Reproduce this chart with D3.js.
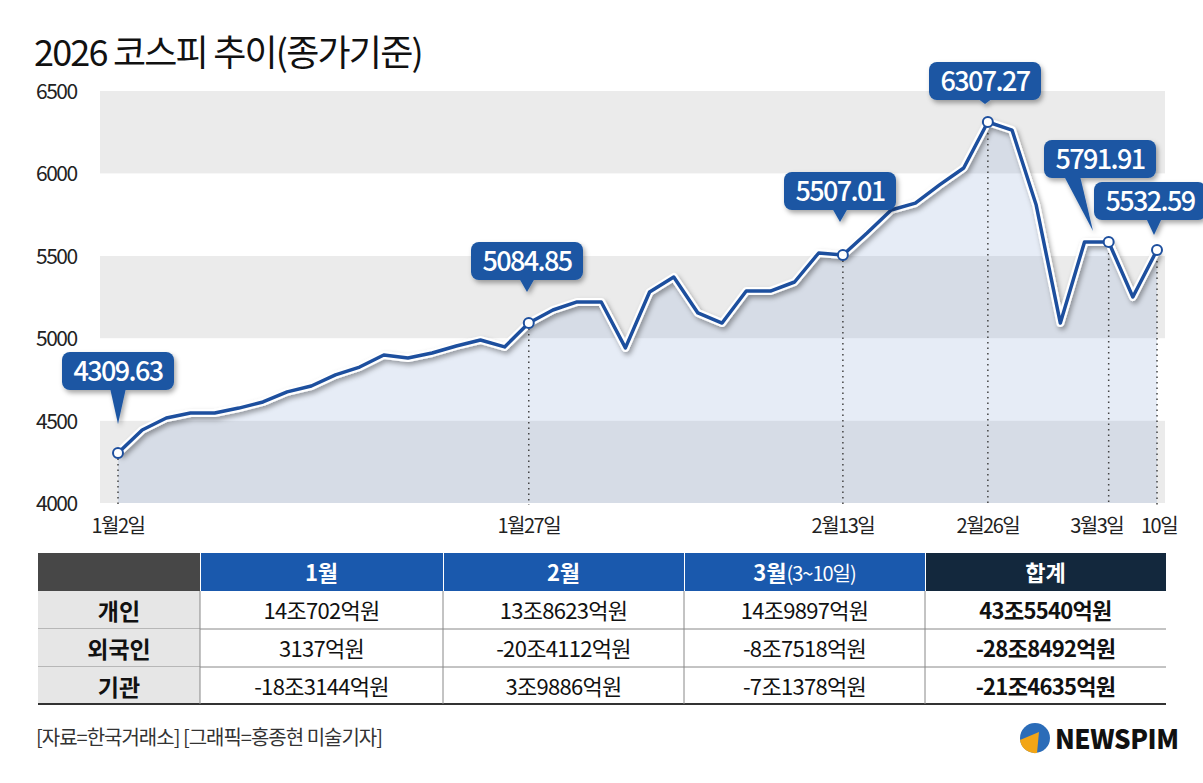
<!DOCTYPE html>
<html><head><meta charset="utf-8">
<script src="https://cdn.jsdelivr.net/npm/d3@7/dist/d3.min.js"></script>
<style>body{margin:0;background:#fff}svg{display:block}text{font-family:"Noto Sans CJK KR","Noto Sans",sans-serif}</style>
</head><body><svg id="c" width="1203" height="783"></svg>
<script>
const values=[4303,4443,4516,4546,4546,4576,4613,4674,4710,4777,4825,4898,4880,4910,4953,4989,4947,5092,5171,5220,5220,4941,5280,5371,5153,5092,5286,5286,5341,5517,5505,5638,5778,5820,5930,6033,6312,6263,5808,5092,5584,5584,5250,5535];
const xTickIdx=[0,17,30,36,41,43];
const xTickLabels=["1월2일","1월27일","2월13일","2월26일","3월3일","10일"];
const calloutIdx=[0,17,30,36,41,43];
const calloutText=["4309.63","5084.85","5507.01","6307.27","5791.91","5532.59"];
const yTicks=[4000,4500,5000,5500,6000,6500];
const tableCols=["1월","2월","3월","합계"];
const tableRows=["개인","외국인","기관"];
const tableVals=[["14조702억원","13조8623억원","14조9897억원","43조5540억원"],
["3137억원","-20조4112억원","-8조7518억원","-28조8492억원"],
["-18조3144억원","3조9886억원","-7조1378억원","-21조4635억원"]];

const svg=d3.select("#c");
const x=d3.scaleLinear().domain([0,values.length-1]).range([118,1157]);
const y=d3.scaleLinear().domain([4000,6500]).range([503,91]);
const L=100,R=1165;
svg.append("text").attr("x",34).attr("y",66).attr("font-size",36).attr("letter-spacing",-1.8).attr("fill","#111").text("2026 코스피 추이(종가기준)");
for(let i=0;i<yTicks.length-1;i++){
  svg.append("rect").attr("x",L).attr("width",R-L).attr("y",y(yTicks[i+1])).attr("height",y(yTicks[i])-y(yTicks[i+1])).attr("fill",i%2==0?"#ebebeb":"#fff");
}
yTicks.forEach(t=>svg.append("text").attr("x",36).attr("y",y(t)+8).attr("font-size",21).attr("letter-spacing",-1.5).attr("fill","#222").text(t));
const defs=svg.append("defs");
const f=defs.append("filter").attr("id","sh").attr("x","-10%").attr("y","-10%").attr("width","120%").attr("height","130%");
f.append("feDropShadow").attr("dx",2).attr("dy",3).attr("stdDeviation",2.5).attr("flood-color","#000").attr("flood-opacity",0.35);
const area=d3.area().x((d,i)=>x(i)).y0(y(4000)).y1(d=>y(d));
svg.append("path").datum(values).attr("d",area).attr("fill","rgba(140,170,215,0.22)");
calloutIdx.forEach(i=>svg.append("line").attr("x1",x(i)).attr("x2",x(i)).attr("y1",y(values[i])).attr("y2",505).attr("stroke","#444").attr("stroke-width",1.5).attr("stroke-dasharray","1.5,4"));
const line=d3.line().x((d,i)=>x(i)).y(d=>y(d));
svg.append("path").datum(values).attr("d",line).attr("fill","none").attr("stroke","#fff").attr("stroke-width",8).attr("stroke-linejoin","round").attr("filter","url(#sh)");
svg.append("path").datum(values).attr("d",line).attr("fill","none").attr("stroke","#1d4f9e").attr("stroke-width",3.5).attr("stroke-linejoin","round");
calloutIdx.forEach(i=>svg.append("circle").attr("cx",x(i)).attr("cy",y(values[i])).attr("r",5).attr("fill","#fff").attr("stroke","#1d4f9e").attr("stroke-width",2));
xTickIdx.forEach((i,k)=>svg.append("text").attr("x",x(i)+(k==4?-12:k==5?2:0)).attr("y",533).attr("text-anchor","middle").attr("font-size",20).attr("letter-spacing",-1.5).attr("fill","#222").text(xTickLabels[k]));
const cpos=[[118,352,118,432],[527,242,527,300],[840,172,840,230],[985,62,985,112],[1100,140,1093,239],[1150,182,1154,243]];
calloutIdx.forEach((i,k)=>{
  const [cx,top,tx,ty]=cpos[k];const w=112,h=38,bl=cx-w/2;
  const g=svg.append("g").attr("filter","url(#sh)");
  const bx=k==4?cx-w/2+20:tx-8;
  g.append("path").attr("d",`M${bx} ${top+h-2} L${bx+16} ${top+h-2} L${tx} ${ty-8} Z`).attr("fill","#1b56a3");
  g.append("rect").attr("x",bl).attr("y",top).attr("width",w).attr("height",h).attr("rx",8).attr("fill","#1b56a3");
  svg.append("text").attr("x",cx).attr("y",top+29).attr("text-anchor","middle").attr("font-size",27).attr("font-weight",500).attr("letter-spacing",-1.6).attr("fill","#fff").text(calloutText[k]);
});
const colX=[38,200,443,684,925,1166];const rowY=[553,591,629,667,704];
svg.append("rect").attr("x",38).attr("y",553).attr("width",162).attr("height",38).attr("fill","#474747");
tableCols.forEach((c,j)=>{
  svg.append("rect").attr("x",colX[j+1]+1).attr("y",553).attr("width",colX[j+2]-colX[j+1]-1).attr("height",38).attr("fill",j==3?"#13283d":"#1a59ad");
  const t=svg.append("text").attr("x",(colX[j+1]+colX[j+2])/2).attr("y",581).attr("text-anchor","middle").attr("font-size",22).attr("font-weight",700).attr("fill","#fff").text(c);
  if(j==2)t.append("tspan").attr("font-weight",400).attr("font-size",20).attr("letter-spacing",-1).text("(3~10일)");
});
tableRows.forEach((r,i)=>{
  svg.append("rect").attr("x",38).attr("y",rowY[i+1]).attr("width",162).attr("height",rowY[i+2]-rowY[i+1]).attr("fill","#e6e6e6");
  svg.append("text").attr("x",119).attr("y",rowY[i+1]+29).attr("text-anchor","middle").attr("font-size",23).attr("font-weight",700).attr("fill","#111").text(r);
  tableVals[i].forEach((v,j)=>svg.append("text").attr("x",(colX[j+1]+colX[j+2])/2).attr("y",rowY[i+1]+28).attr("text-anchor","middle").attr("font-size",22).attr("font-weight",j==3?700:400).attr("letter-spacing",-0.7).attr("fill","#111").text(v));
  svg.append("line").attr("x1",38).attr("x2",1166).attr("y1",rowY[i+2]).attr("y2",rowY[i+2]).attr("stroke",i==2?"#333":"#888").attr("stroke-width",i==2?2:1);
});
colX.slice(1,5).forEach(cx=>svg.append("line").attr("x1",cx).attr("x2",cx).attr("y1",591).attr("y2",704).attr("stroke","#888"));
svg.append("text").attr("x",36).attr("y",745).attr("font-size",20).attr("letter-spacing",-1).attr("fill","#333").text("[자료=한국거래소] [그래픽=홍종현 미술기자]");
const lg=svg.append("g").attr("transform","translate(1035,738)");
lg.append("circle").attr("r",15).attr("fill","#2b6cb8");
lg.append("path").attr("d","M-15 2 A15 15 0 0 0 2 15 L4 -6 Z").attr("fill","#f2a516");
lg.append("path").attr("d","M-8 6 L10 -12 L4 -6 Z").attr("fill","#fff");
svg.append("text").attr("x",1055).attr("y",749).attr("font-family","Roboto").attr("font-size",26).attr("font-weight",900).attr("letter-spacing",-0.5).attr("fill","#111").text("NEWSPIM");
</script></body></html>
